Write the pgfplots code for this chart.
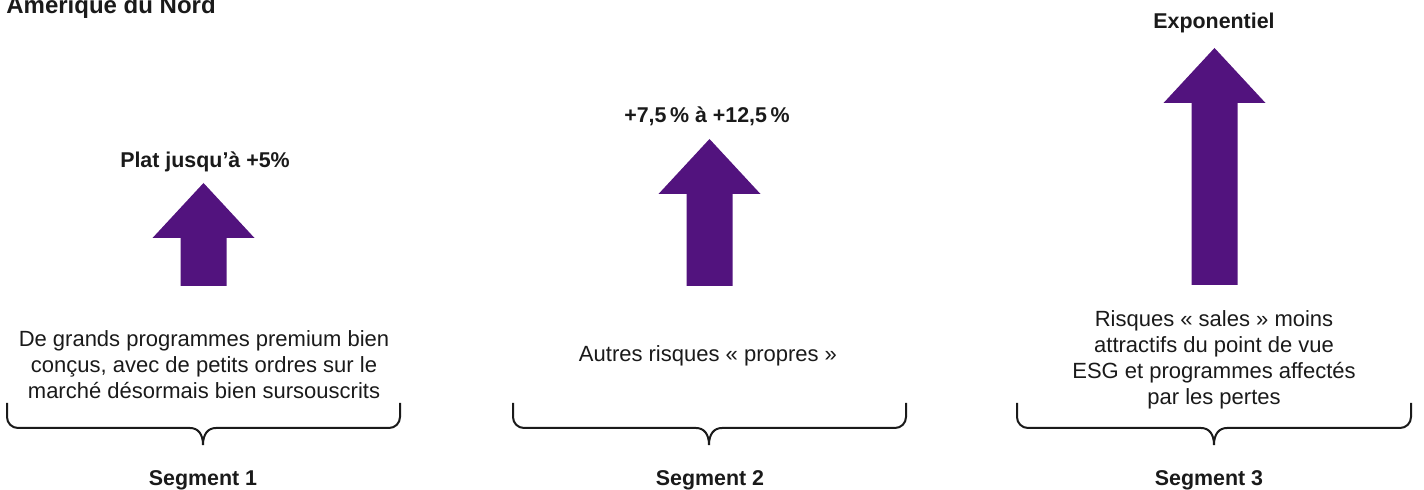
\documentclass[border=0pt]{standalone}
\usepackage{fontspec}
\setmainfont{Liberation Sans}
\usepackage{pgfplots}
\pgfplotsset{compat=1.18}
\definecolor{arrowpurple}{HTML}{52137E}
\definecolor{ink}{HTML}{1A1A1A}

\tikzset{
  desc/.style={font=\fontsize{11}{13}\selectfont, text=ink, anchor=base, inner sep=0pt},
  lab/.style={font=\bfseries\fontsize{10.7}{12}\selectfont, text=ink, anchor=base, inner sep=0pt},
}

% brace under a segment: left end, centre, right end (pixel units of the axis)
\newcommand{\segbrace}[3]{%
  \draw[ink,line width=1pt]
    (#1,403) -- (#1,417) to[out=-90,in=180] (#1+11,428) -- (#2-13,428)
    .. controls (#2-5,428) and (#2,434) .. (#2,445)
    .. controls (#2,434) and (#2+5,428) .. (#2+13,428)
    -- (#3-11,428) to[out=0,in=-90] (#3,417) -- (#3,403);}

\begin{document}
\begin{tikzpicture}
\path[use as bounding box] (0,0) rectangle (712pt,245pt);
\clip (0,0) rectangle (712pt,245pt);
\begin{axis}[
  at={(0,0)}, anchor=south west,
  width=712pt, height=245pt, scale only axis,
  xmin=0, xmax=1424, ymin=0, ymax=490, y dir=reverse,
  hide axis, clip=false,
]
% arrows: shaft and head outlines
\addplot[fill=arrowpurple, draw=none] coordinates {
  (180.5,286) (180.5,238) (152.5,238) (203.5,183) (254.5,238) (226.5,238) (226.5,286)};
\addplot[fill=arrowpurple, draw=none] coordinates {
  (686.5,286) (686.5,194) (658.5,194) (709.5,139) (760.5,194) (732.5,194) (732.5,286)};
\addplot[fill=arrowpurple, draw=none] coordinates {
  (1191.5,285) (1191.5,103) (1163.5,103) (1214.5,48) (1265.5,103) (1237.5,103) (1237.5,285)};

% title
\node[font=\bfseries\fontsize{12}{14}\selectfont, text=ink, anchor=base west, inner sep=0pt] at (6,14) {Amérique du Nord};

% labels above arrows
\node[lab] at (205,168) {Plat jusqu’à +5\%};
\node[lab] at (707,123) {+7,5\,\% à +12,5\,\%};
\node[lab] at (1214,29) {Exponentiel};

% descriptions
\node[desc] at (204,347) {De grands programmes premium bien};
\node[desc] at (204,373) {conçus, avec de petits ordres sur le};
\node[desc] at (204,399) {marché désormais bien sursouscrits};
\node[desc] at (708,362) {Autres risques « propres »};
\node[desc] at (1214,327) {Risques « sales » moins};
\node[desc] at (1214,353) {attractifs du point de vue};
\node[desc] at (1214,379) {ESG et programmes affectés};
\node[desc] at (1214,405) {par les pertes};

% braces
\segbrace{7}{203}{400}
\segbrace{513}{709}{906}
\segbrace{1017}{1214}{1411}

% segment names
\node[lab] at (203,486) {Segment 1};
\node[lab] at (710,486) {Segment 2};
\node[lab] at (1209,486) {Segment 3};
\end{axis}
\end{tikzpicture}
\end{document}
